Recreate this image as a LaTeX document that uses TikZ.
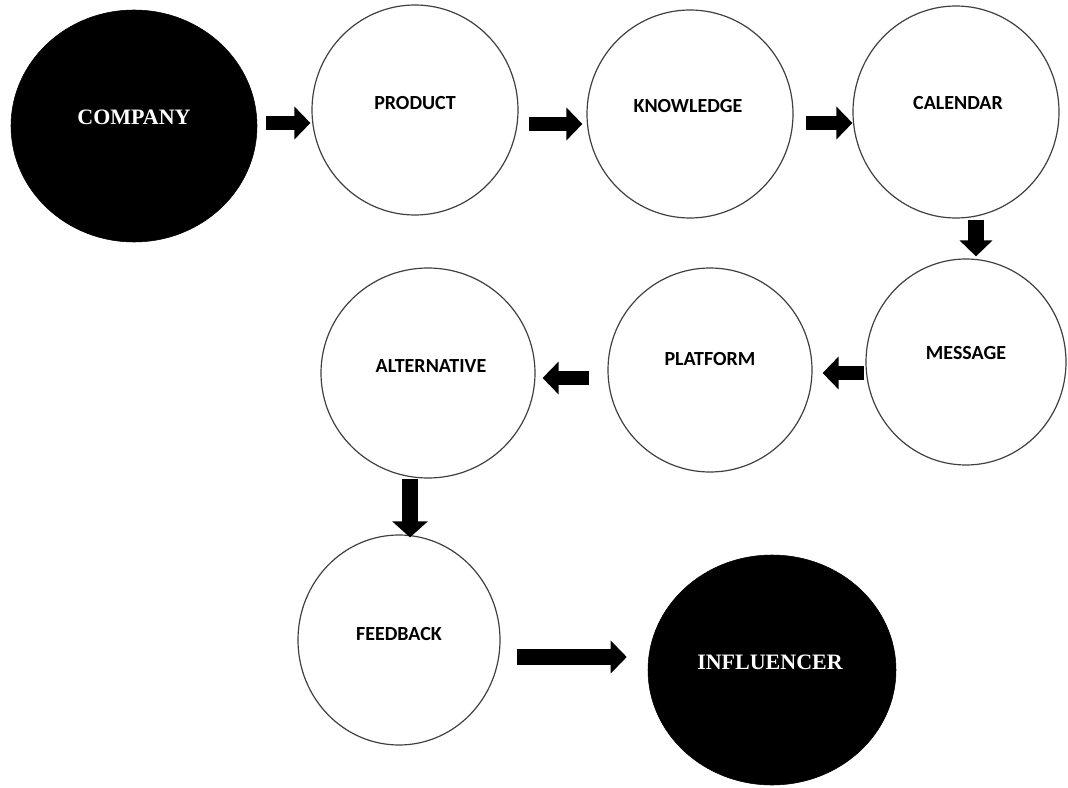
\documentclass[tikz,border=0pt]{standalone}
\usepackage{fontspec}
\newfontfamily\lblfont{Carlito}
\newfontfamily\bigfont{Liberation Serif}
\usetikzlibrary{shapes.geometric,arrows.meta}
\tikzset{
  x=0.75pt, y=-0.75pt,
  wcirc/.style={ellipse, draw=black!75, line width=0.9pt, fill=white, inner sep=0pt},
  bcirc/.style={ellipse, draw=black, fill=black, inner sep=0pt},
  wtxt/.style={font=\lblfont\bfseries\fontsize{15}{17}\selectfont, text=black},
  btxt/.style={font=\bigfont\bfseries\fontsize{16.5}{18}\selectfont, text=white},
  blk/.style={draw=black, line width=10.5pt, -{Triangle[width=24pt, length=12pt]}},
}
\begin{document}
\begin{tikzpicture}
\useasboundingbox (0,0) rectangle (1068,788);
\node[bcirc, minimum width=246*0.75pt, minimum height=232*0.75pt,
  label={[btxt, yshift=6.75pt]center:COMPANY}] (company) at (134,126) {};
\node[wcirc, minimum width=206*0.75pt, minimum height=210*0.75pt,
  label={[wtxt, yshift=5.25pt]center:PRODUCT}] (product) at (415,110) {};
\node[wcirc, minimum width=206*0.75pt, minimum height=208*0.75pt,
  label={[wtxt, yshift=6pt, xshift=-1.5pt]center:KNOWLEDGE}] (knowledge) at (690,114) {};
\node[wcirc, minimum width=206*0.75pt, minimum height=212*0.75pt,
  label={[wtxt, yshift=6.75pt, xshift=1.5pt]center:CALENDAR}] (calendar) at (956,112) {};
\node[wcirc, minimum width=200*0.75pt, minimum height=206*0.75pt,
  label={[wtxt, yshift=6.75pt]center:MESSAGE}] (message) at (966,362) {};
\node[wcirc, minimum width=204*0.75pt, minimum height=204*0.75pt,
  label={[wtxt, yshift=8.25pt]center:PLATFORM}] (platform) at (710,370) {};
\node[wcirc, minimum width=214*0.75pt, minimum height=210*0.75pt,
  label={[wtxt, yshift=5.25pt, xshift=2.25pt]center:ALTERNATIVE}] (alternative) at (428,373) {};
\node[wcirc, minimum width=202*0.75pt, minimum height=210*0.75pt,
  label={[wtxt, yshift=4.5pt]center:FEEDBACK}] (feedback) at (399,640) {};
\node[bcirc, minimum width=248*0.75pt, minimum height=230*0.75pt,
  label={[btxt, yshift=6pt, xshift=-1.5pt]center:INFLUENCER}] (influencer) at (772,670) {};

\draw[blk] ([shift={(9,-3)}]company.east) -- ([shift={(-1,13)}]product.west);
\draw[blk] ([shift={(10,14)}]product.east) -- ([shift={(-4,10)}]knowledge.west);
\draw[blk] ([shift={(12,9)}]knowledge.east) -- ([shift={(0,11)}]calendar.west);
\draw[blk, line width=12pt] ([shift={(20,1)}]calendar.south) -- ([shift={(10,-2)}]message.north);
\draw[blk] ([shift={(-1,11)}]message.west) -- ([shift={(10,3)}]platform.east);
\draw[blk] ([shift={(-18,8)}]platform.west) -- ([shift={(7,5)}]alternative.east);
\draw[blk, line width=12.5pt, -{Triangle[width=26pt, length=12pt]}] ([shift={(-18,0)}]alternative.south) -- ([shift={(11,3)}]feedback.north);
\draw[blk, line width=12pt] ([shift={(16,17)}]feedback.east) -- ([shift={(-21,-13)}]influencer.west);
\end{tikzpicture}
\end{document}
